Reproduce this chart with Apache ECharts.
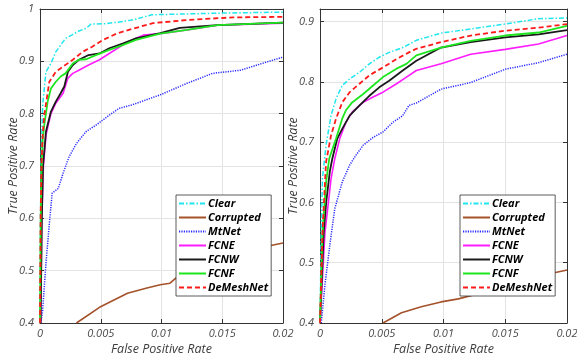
<!DOCTYPE html>
<html><head><meta charset="utf-8">
<script src="https://cdn.jsdelivr.net/npm/echarts@6/dist/echarts.min.js"></script>
<style>html,body{margin:0;padding:0;background:#fff}#c{width:577px;height:358px}</style>
</head><body><div id="c"></div>
<script>
const seriesNames = ['Clear','Corrupted','MtNet','FCNE','FCNW','FCNF','DeMeshNet'];
const xTicks = [0, 0.005, 0.01, 0.015, 0.02];
const yTicksLeft = [0.4, 0.5, 0.6, 0.7, 0.8, 0.9, 1];
const yTicksRight = [0.4, 0.5, 0.6, 0.7, 0.8, 0.9];

// Left plot [FPR, TPR]
const L_Clear = [[0,0.4],[0.00004,0.6],[0.0001,0.72],[0.00022,0.817],[0.00049,0.88],[0.0009,0.896],[0.0013,0.918],[0.0017,0.931],[0.0021,0.944],[0.0026,0.95],[0.0032,0.958],[0.0038,0.963],[0.0042,0.971],[0.0054,0.972],[0.0068,0.976],[0.0078,0.98],[0.0092,0.989],[0.0146,0.992],[0.02,0.994]];
const L_Corrupted = [[0.003,0.4],[0.0049,0.43],[0.0072,0.457],[0.0088,0.467],[0.0099,0.473],[0.0107,0.476],[0.0113,0.488],[0.0132,0.495],[0.0165,0.52],[0.0188,0.547],[0.02,0.553]];
const L_MtNet = [[0.00008,0.4],[0.00022,0.425],[0.00049,0.514],[0.00077,0.59],[0.001,0.648],[0.0015,0.657],[0.0019,0.686],[0.0024,0.718],[0.003,0.743],[0.0038,0.766],[0.0046,0.778],[0.0057,0.797],[0.0065,0.81],[0.0076,0.817],[0.0099,0.836],[0.0121,0.858],[0.0142,0.877],[0.0165,0.883],[0.0187,0.899],[0.02,0.908]];
const L_FCNE = [[0.00005,0.4],[0.00015,0.6],[0.00028,0.7],[0.0005,0.76],[0.0009,0.8],[0.0013,0.82],[0.0019,0.839],[0.0023,0.868],[0.0027,0.877],[0.0032,0.883],[0.004,0.893],[0.0049,0.903],[0.0057,0.915],[0.0068,0.931],[0.0079,0.944],[0.0085,0.95],[0.0099,0.953],[0.0121,0.96],[0.0146,0.969],[0.02,0.973]];
const L_FCNW = [[0.00005,0.4],[0.00015,0.6],[0.00025,0.7],[0.00049,0.766],[0.0009,0.804],[0.0013,0.823],[0.0017,0.839],[0.002,0.852],[0.0023,0.88],[0.0027,0.893],[0.0032,0.903],[0.004,0.912],[0.0049,0.915],[0.0057,0.925],[0.0068,0.934],[0.0079,0.944],[0.0099,0.954],[0.0115,0.964],[0.0146,0.969],[0.02,0.974]];
const L_FCNF = [[0,0.4],[0.00006,0.6],[0.00013,0.7],[0.00022,0.75],[0.00035,0.778],[0.00063,0.823],[0.0009,0.848],[0.0013,0.861],[0.0017,0.871],[0.0021,0.877],[0.0027,0.896],[0.0032,0.903],[0.0038,0.904],[0.0046,0.912],[0.0057,0.922],[0.0068,0.931],[0.0079,0.941],[0.0099,0.953],[0.0121,0.96],[0.0146,0.969],[0.02,0.974]];
const L_DeMeshNet = [[0,0.4],[0.00005,0.6],[0.00012,0.7],[0.00022,0.76],[0.00035,0.797],[0.00077,0.861],[0.0013,0.88],[0.0019,0.89],[0.0027,0.903],[0.0035,0.918],[0.0043,0.928],[0.0052,0.941],[0.0063,0.953],[0.0076,0.962],[0.0093,0.973],[0.0121,0.979],[0.0159,0.984],[0.02,0.985]];

// Right plot [FPR, TPR]
const R_Clear = [[0,0.4],[0.0001,0.55],[0.0002,0.64],[0.00049,0.695],[0.00089,0.744],[0.0013,0.772],[0.0018,0.794],[0.0024,0.805],[0.0032,0.816],[0.004,0.83],[0.0048,0.841],[0.0056,0.849],[0.0067,0.857],[0.0078,0.869],[0.0098,0.881],[0.0122,0.888],[0.015,0.896],[0.0177,0.905],[0.02,0.906]];
const R_Corrupted = [[0.0051,0.4],[0.0066,0.417],[0.0082,0.427],[0.0098,0.435],[0.0112,0.44],[0.015,0.46],[0.0187,0.482],[0.02,0.488]];
const R_MtNet = [[0.0001,0.4],[0.0004,0.463],[0.0008,0.53],[0.0012,0.59],[0.0018,0.634],[0.0024,0.662],[0.0029,0.678],[0.0035,0.695],[0.0043,0.708],[0.0051,0.717],[0.0059,0.733],[0.0067,0.744],[0.0072,0.761],[0.0078,0.765],[0.0098,0.788],[0.0122,0.799],[0.015,0.821],[0.0177,0.832],[0.02,0.846]];
const R_FCNE = [[0,0.4],[0.0004,0.55],[0.0009,0.64],[0.0012,0.673],[0.0016,0.706],[0.0021,0.733],[0.0026,0.75],[0.0035,0.766],[0.0043,0.775],[0.0051,0.783],[0.0062,0.797],[0.007,0.808],[0.0078,0.819],[0.0098,0.83],[0.0122,0.846],[0.015,0.854],[0.0177,0.863],[0.02,0.877]];
const R_FCNW = [[0,0.4],[0.0003,0.55],[0.0005,0.6],[0.0008,0.652],[0.001,0.673],[0.0014,0.706],[0.0018,0.722],[0.0024,0.744],[0.0032,0.761],[0.004,0.777],[0.0048,0.791],[0.0056,0.802],[0.0067,0.819],[0.0078,0.835],[0.0098,0.857],[0.0122,0.866],[0.015,0.874],[0.0177,0.879],[0.02,0.886]];
const R_FCNF = [[0,0.4],[0.0002,0.55],[0.0005,0.635],[0.00075,0.673],[0.0013,0.706],[0.0018,0.739],[0.0021,0.753],[0.0026,0.766],[0.0035,0.78],[0.0043,0.794],[0.0051,0.808],[0.0062,0.822],[0.007,0.83],[0.0078,0.844],[0.0098,0.857],[0.0122,0.868],[0.015,0.877],[0.0177,0.882],[0.02,0.893]];
const R_DeMeshNet = [[0,0.4],[0.0002,0.55],[0.00049,0.667],[0.00089,0.711],[0.0013,0.739],[0.0018,0.766],[0.0024,0.783],[0.0032,0.797],[0.004,0.811],[0.0051,0.824],[0.0062,0.838],[0.0072,0.849],[0.0078,0.855],[0.0098,0.866],[0.0122,0.877],[0.015,0.885],[0.0177,0.89],[0.02,0.896]];

const leftData = [L_Clear, L_Corrupted, L_MtNet, L_FCNE, L_FCNW, L_FCNF, L_DeMeshNet];
const rightData = [R_Clear, R_Corrupted, R_MtNet, R_FCNE, R_FCNW, R_FCNF, R_DeMeshNet];

const styles = [
  {color:'#1fe6ee', type:[5,2,1.5,2], width:1.5},
  {color:'#a5522a', type:'solid', width:1.6},
  {color:'#2a2aff', type:[1.2,1.2], width:1.5},
  {color:'#ff1cff', type:'solid', width:1.6},
  {color:'#1a1a1a', type:'solid', width:1.8},
  {color:'#1ee61e', type:'solid', width:1.8},
  {color:'#ff1a1a', type:[5,3], width:1.8}
];

const FONT = '"Open Sans", "DejaVu Sans", sans-serif';
const labelStyle = {color:'#4a4a4a', fontStyle:'italic', fontSize:11, fontFamily:FONT};
const nameStyle = {color:'#3c3c3c', fontStyle:'italic', fontSize:12.5, fontFamily:FONT};

const grids = [
  {left:40, top:9, width:243, height:314, outerBoundsMode:'none', containLabel:false},
  {left:320, top:9, width:247, height:314, outerBoundsMode:'none', containLabel:false}
];

function xAx(gi, pos) {
  const main = pos === 'bottom';
  return {
    type:'value', gridIndex:gi, position:pos, min:0, max:0.02, interval:0.005,
    name: main ? 'False Positive Rate' : '', nameLocation:'middle', nameGap:20, nameTextStyle:nameStyle,
    nameMoveOverlap:false,
    axisLine:{show:true, onZero:false, lineStyle:{color:'#333', width:1}},
    axisTick:{show:true, inside:true, length:4, lineStyle:{color:'#333'}},
    axisLabel:{show:main, margin:5, ...labelStyle, formatter:v => String(+v.toFixed(4))},
    splitLine:{show:main, lineStyle:{color:'#e3e3e3', width:1}}
  };
}
function yAx(gi, pos, max) {
  const main = pos === 'left';
  return {
    type:'value', gridIndex:gi, position:pos, min:0.4, max:max, interval:0.1,
    name: main ? 'True Positive Rate' : '', nameLocation:'middle', nameGap:20.5, nameTextStyle:nameStyle,
    nameMoveOverlap:false,
    axisLine:{show:true, onZero:false, lineStyle:{color:'#333', width:1}},
    axisTick:{show:true, inside:true, length:4, lineStyle:{color:'#333'}},
    axisLabel:{show:main, margin:6, ...labelStyle, showMaxLabel: max === 1,
      formatter:v => String(+v.toFixed(2))},
    splitLine:{show:main, lineStyle:{color:'#e3e3e3', width:1}}
  };
}

const series = [];
[leftData, rightData].forEach((set, gi) => {
  set.forEach((d, i) => {
    series.push({
      type:'line', name:seriesNames[i], data:d,
      xAxisIndex: gi, yAxisIndex: gi === 0 ? 0 : 2,
      showSymbol:false, symbol:'none', clip:true, animation:false,
      color: styles[i].color,
      lineStyle:{color:styles[i].color, type:styles[i].type, width:styles[i].width}
    });
  });
});

function legend(left) {
  return {
    data: seriesNames.slice(),
    orient:'vertical', left:left, top:195, itemGap:3, itemWidth:27, itemHeight:11,
    itemStyle:{opacity:0},
    backgroundColor:'#fff', borderColor:'#333', borderWidth:0.8, padding:[3,3,3,2],
    textStyle:{color:'#000', fontWeight:'bold', fontStyle:'italic', fontSize:11, fontFamily:FONT, padding:[0,0,0,-3]},
    selectedMode:false
  };
}

const option = {
  backgroundColor:'#fff',
  animation:false,
  grid: grids,
  xAxis: [xAx(0,'bottom'), xAx(1,'bottom'), xAx(0,'top'), xAx(1,'top')],
  yAxis: [yAx(0,'left',1), yAx(0,'right',1), yAx(1,'left',0.921), yAx(1,'right',0.921)],
  legend: [legend(176), legend(460)],
  series: series
};
const chart = echarts.init(document.getElementById('c'));
chart.setOption(option);
</script></body></html>
